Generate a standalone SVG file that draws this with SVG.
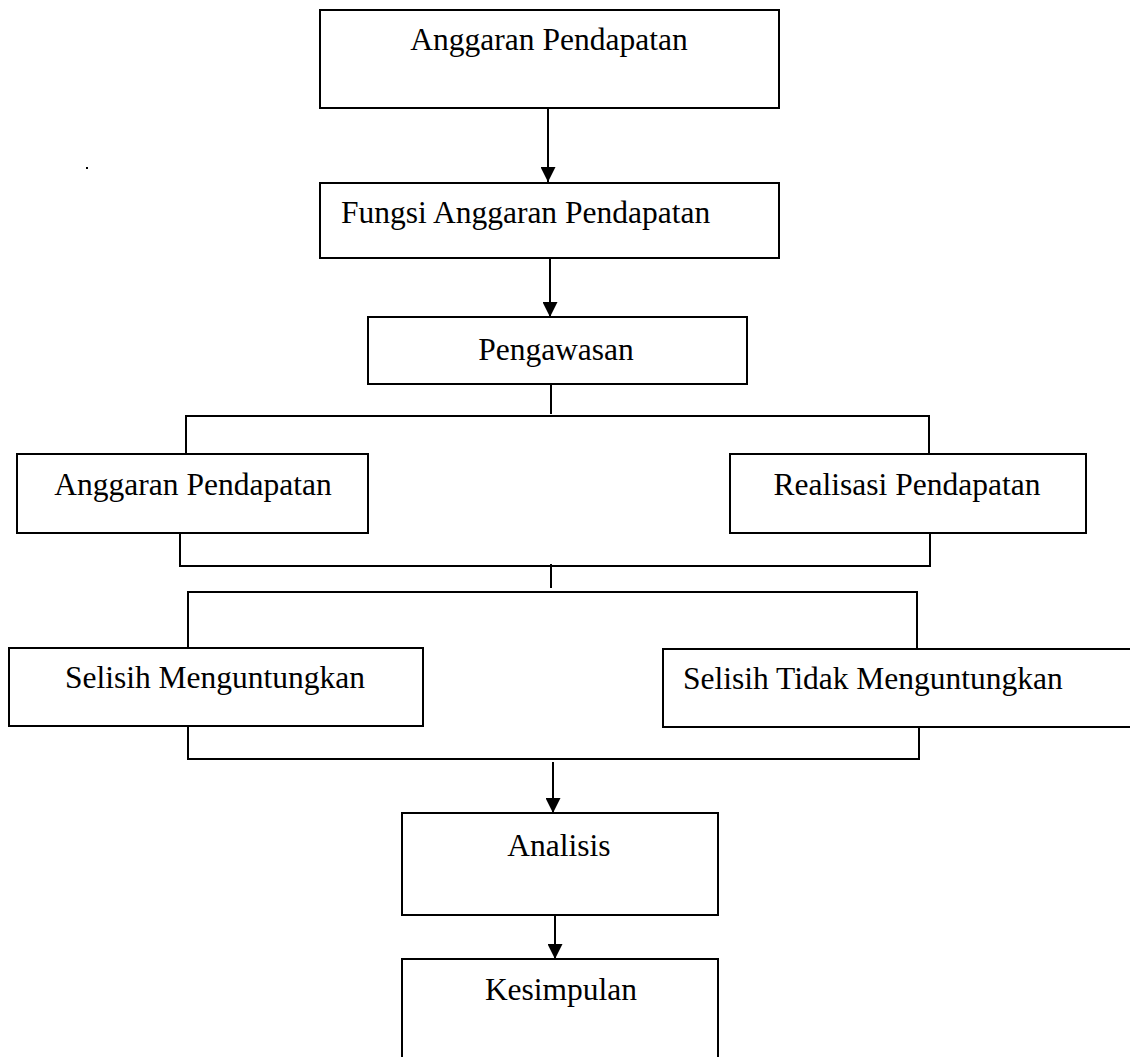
<svg xmlns="http://www.w3.org/2000/svg" width="1130" height="1057" viewBox="0 0 1130 1057">
<style>
.box{fill:#fff;stroke:#000;stroke-width:2}
.ln{fill:none;stroke:#000;stroke-width:2}
.t{font-family:"Liberation Serif","Times New Roman",serif;font-size:31.5px;fill:#000}
.c{text-anchor:middle}
</style>
<defs>
<marker id="ah" viewBox="0 0 10 10" refX="10" refY="5" markerWidth="15" markerHeight="15" markerUnits="userSpaceOnUse" orient="auto">
<path d="M0,0 L10,5 L0,10 Z" fill="#000"/>
</marker>
</defs>
<rect x="0" y="0" width="1130" height="1057" fill="#fff"/>
<g id="connectors">
<line class="ln" x1="548" y1="108" x2="548" y2="182" marker-end="url(#ah)"/>
<line class="ln" x1="550" y1="258" x2="550" y2="317" marker-end="url(#ah)"/>
<line class="ln" x1="551" y1="384" x2="551" y2="414"/>
<path class="ln" d="M186,453 V416 H929 V453"/>
<path class="ln" d="M180,533 V566 H930 V533"/>
<line class="ln" x1="551" y1="564" x2="551" y2="588"/>
<path class="ln" d="M188,648 V592 H917 V649"/>
<path class="ln" d="M188,726 V759 H919 V726"/>
<line class="ln" x1="553" y1="762" x2="553" y2="813" marker-end="url(#ah)"/>
<line class="ln" x1="555" y1="915" x2="555" y2="959" marker-end="url(#ah)"/>
</g>
<rect x="86" y="167" width="2" height="2" fill="#000"/>
<g id="n1"><rect class="box" x="320" y="10" width="459" height="98"/><text class="t c" x="549" y="50">Anggaran Pendapatan</text></g>
<g id="n2"><rect class="box" x="320" y="183" width="459" height="75"/><text class="t" x="341" y="223">Fungsi Anggaran Pendapatan</text></g>
<g id="n3"><rect class="box" x="368" y="317" width="379" height="67"/><text class="t c" x="556" y="360">Pengawasan</text></g>
<g id="n4"><rect class="box" x="17" y="454" width="351" height="79"/><text class="t c" x="193" y="495">Anggaran Pendapatan</text></g>
<g id="n5"><rect class="box" x="730" y="454" width="356" height="79"/><text class="t c" x="907" y="495">Realisasi Pendapatan</text></g>
<g id="n6"><rect class="box" x="9" y="648" width="414" height="78"/><text class="t c" x="215" y="688">Selisih Menguntungkan</text></g>
<g id="n7"><rect class="box" x="663" y="649" width="480" height="78"/><text class="t" x="683" y="689">Selisih Tidak Menguntungkan</text></g>
<g id="n8"><rect class="box" x="402" y="813" width="316" height="102"/><text class="t c" x="559" y="856">Analisis</text></g>
<g id="n9"><rect class="box" x="402" y="959" width="316" height="110"/><text class="t c" x="561" y="1000">Kesimpulan</text></g>
</svg>
